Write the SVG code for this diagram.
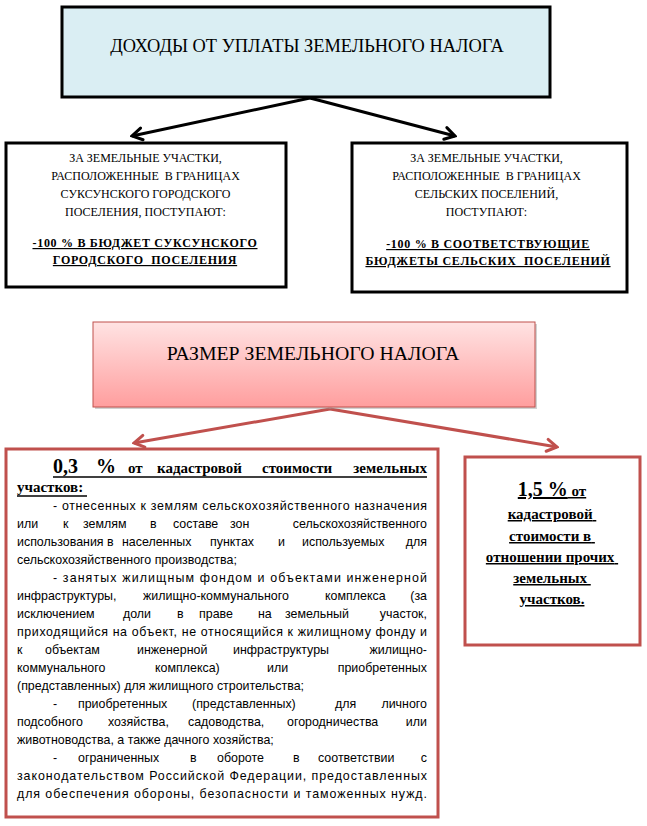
<svg xmlns="http://www.w3.org/2000/svg" width="647" height="826" viewBox="0 0 647 826">
<defs>
<linearGradient id="pinkGrad" x1="0" y1="0" x2="0" y2="1">
<stop offset="0" stop-color="#ffe3e3"/>
<stop offset="1" stop-color="#ff9e9e"/>
</linearGradient>
<marker id="ahBlack" viewBox="-12 -8 14 16" refX="0" refY="0" markerWidth="14" markerHeight="16" markerUnits="userSpaceOnUse" orient="auto">
<path d="M-10,-6 L0,0 L-10,6" fill="none" stroke="#000" stroke-width="3" stroke-linecap="round" stroke-linejoin="miter"/>
</marker>
<marker id="ahRed" viewBox="-12 -8 14 16" refX="0" refY="0" markerWidth="14" markerHeight="16" markerUnits="userSpaceOnUse" orient="auto">
<path d="M-10,-6 L0,0 L-10,6" fill="none" stroke="#c0504d" stroke-width="3" stroke-linecap="round" stroke-linejoin="miter"/>
</marker>
</defs>
<style>
.serif{font-family:"Liberation Serif","Times New Roman",serif;fill:#000}
.cap{font-size:12px;white-space:pre}
.capb{font-size:12px;font-weight:bold;text-decoration:underline;white-space:pre;letter-spacing:0.7px}
.title{font-size:18.4px}
.title2{font-size:19.8px}
.sans{font-family:"Liberation Sans",Arial,sans-serif;font-size:13.5px;fill:#000}
.bold15{font-size:15px;font-weight:bold}
.big{font-size:20px;font-weight:bold}
.blk{fill:#fff;stroke:#000;stroke-width:3}
.redbox{fill:#fff;stroke:#c0504d;stroke-width:3}
.con-b{fill:none;stroke:#000;stroke-width:3}
.con-r{fill:none;stroke:#c0504d;stroke-width:3}
</style>
<rect width="647" height="826" fill="#fff"/>

<g id="connectors">
<line class="con-b" x1="310" y1="98" x2="132" y2="136" marker-end="url(#ahBlack)"/>
<line class="con-b" x1="310" y1="98" x2="455" y2="136" marker-end="url(#ahBlack)"/>
<line class="con-r" x1="330" y1="409" x2="134" y2="443" marker-end="url(#ahRed)"/>
<line class="con-r" x1="330" y1="409" x2="557" y2="447" marker-end="url(#ahRed)"/>
</g>

<g id="node-income">
<rect x="62" y="7" width="488" height="90" fill="#daeef3" stroke="#000" stroke-width="3"/>
<text class="serif title" x="307" y="52" text-anchor="middle">ДОХОДЫ ОТ УПЛАТЫ ЗЕМЕЛЬНОГО НАЛОГА</text>
</g>

<g id="node-urban">
<rect class="blk" x="6" y="143" width="280" height="144"/>
<text class="serif cap" text-anchor="middle">
<tspan x="147" y="162">ЗА ЗЕМЕЛЬНЫЕ УЧАСТКИ,</tspan>
<tspan x="147" y="180">РАСПОЛОЖЕННЫЕ  В ГРАНИЦАХ</tspan>
<tspan x="147" y="198">СУКСУНСКОГО ГОРОДСКОГО</tspan>
<tspan x="147" y="216">ПОСЕЛЕНИЯ, ПОСТУПАЮТ:</tspan>
</text>
<text class="serif capb" x="145" y="247" text-anchor="middle">-100 % В БЮДЖЕТ СУКСУНСКОГО</text>
<text class="serif capb" x="145" y="264" text-anchor="middle">ГОРОДСКОГО  ПОСЕЛЕНИЯ</text>
</g>

<g id="node-rural">
<rect class="blk" x="352" y="143" width="275" height="149"/>
<text class="serif cap" text-anchor="middle">
<tspan x="488" y="162">ЗА ЗЕМЕЛЬНЫЕ УЧАСТКИ,</tspan>
<tspan x="488" y="180">РАСПОЛОЖЕННЫЕ  В ГРАНИЦАХ</tspan>
<tspan x="488" y="198">СЕЛЬСКИХ ПОСЕЛЕНИЙ,</tspan>
<tspan x="488" y="216">ПОСТУПАЮТ:</tspan>
</text>
<text class="serif capb" x="488" y="248" text-anchor="middle">-100 % В СООТВЕТСТВУЮЩИЕ</text>
<text class="serif capb" x="488" y="265" text-anchor="middle">БЮДЖЕТЫ СЕЛЬСКИХ  ПОСЕЛЕНИЙ</text>
</g>

<g id="node-size">
<rect x="95" y="324" width="442" height="85" fill="#9a9a9a" opacity="0.45"/>
<rect x="93" y="322" width="442" height="85" fill="url(#pinkGrad)" stroke="#c0504d" stroke-width="1"/>
<text class="serif title2" x="313" y="360" text-anchor="middle">РАЗМЕР ЗЕМЕЛЬНОГО НАЛОГА</text>
</g>

<g id="node-rate-03">
<rect class="redbox" x="6" y="449" width="432" height="368"/>
<text class="serif">
<tspan class="big" x="53" y="473">0,3</tspan>
<tspan class="big" x="96" y="473">%</tspan>
<tspan class="bold15" x="128" y="473">от</tspan>
<tspan class="bold15" x="157" y="473">кадастровой</tspan>
<tspan class="bold15" x="262" y="473">стоимости</tspan>
<tspan class="bold15" x="427" y="473" text-anchor="end">земельных</tspan>
</text>
<line x1="53" y1="477" x2="427" y2="477" stroke="#000" stroke-width="1.5"/>
<text class="serif bold15" x="17" y="492">участков:</text>
<line x1="17" y1="496" x2="87" y2="496" stroke="#000" stroke-width="1.5"/>

<g transform="scale(0.92 1)">
<text class="sans" x="57.61" y="510" textLength="406.52" lengthAdjust="spacing">- отнесенных к землям сельскохозяйственного назначения</text>
<text class="sans" y="528"><tspan x="18.48">или</tspan><tspan x="68.48">к</tspan><tspan x="90.22">землям</tspan><tspan x="163.04">в</tspan><tspan x="188.04">составе</tspan><tspan x="250">зон</tspan><tspan x="464.13" text-anchor="end">сельскохозяйственного</tspan></text>
<text class="sans" y="546"><tspan x="18.48">использования</tspan><tspan x="116.3">в</tspan><tspan x="132.61">населенных</tspan><tspan x="228.26">пунктах</tspan><tspan x="302.17">и</tspan><tspan x="328.26">используемых</tspan><tspan x="464.13" text-anchor="end">для</tspan></text>
<text class="sans" x="18.48" y="564">сельскохозяйственного производства;</text>

<text class="sans" x="57.61" y="582" textLength="406.52" lengthAdjust="spacing">- занятых жилищным фондом и объектами инженерной</text>
<text class="sans" y="600"><tspan x="18.48">инфраструктуры,</tspan><tspan x="155.43">жилищно-коммунального</tspan><tspan x="353.26">комплекса</tspan><tspan x="464.13" text-anchor="end">(за</tspan></text>
<text class="sans" y="618"><tspan x="18.48">исключением</tspan><tspan x="133.7">доли</tspan><tspan x="192.39">в</tspan><tspan x="216.3">праве</tspan><tspan x="280.43">на</tspan><tspan x="309.78">земельный</tspan><tspan x="464.13" text-anchor="end">участок,</tspan></text>
<text class="sans" x="18.48" y="636" textLength="445.65" lengthAdjust="spacing">приходящийся на объект, не относящийся к жилищному фонду и</text>
<text class="sans" y="654"><tspan x="18.48">к</tspan><tspan x="48.91">объектам</tspan><tspan x="148.91">инженерной</tspan><tspan x="253.26">инфраструктуры</tspan><tspan x="464.13" text-anchor="end">жилищно-</tspan></text>
<text class="sans" y="672"><tspan x="18.48">коммунального</tspan><tspan x="168.48">комплекса)</tspan><tspan x="290.22">или</tspan><tspan x="464.13" text-anchor="end">приобретенных</tspan></text>
<text class="sans" x="18.48" y="690">(представленных) для жилищного строительства;</text>

<text class="sans" y="708"><tspan x="57.61">-</tspan><tspan x="84.78">приобретенных</tspan><tspan x="208.7">(представленных)</tspan><tspan x="364.13">для</tspan><tspan x="464.13" text-anchor="end">личного</tspan></text>
<text class="sans" y="726"><tspan x="18.48">подсобного</tspan><tspan x="117.39">хозяйства,</tspan><tspan x="204.35">садоводства,</tspan><tspan x="311.96">огородничества</tspan><tspan x="464.13" text-anchor="end">или</tspan></text>
<text class="sans" x="18.48" y="744">животноводства, а также дачного хозяйства;</text>
<text class="sans" y="762"><tspan x="57.61">-</tspan><tspan x="84.78">ограниченных</tspan><tspan x="206.52">в</tspan><tspan x="235.87">обороте</tspan><tspan x="318.48">в</tspan><tspan x="345.65">соответствии</tspan><tspan x="464.13" text-anchor="end">с</tspan></text>
<text class="sans" x="18.48" y="780" textLength="445.65" lengthAdjust="spacing">законодательством Российской Федерации, предоставленных</text>
<text class="sans" x="18.48" y="798" textLength="445.65" lengthAdjust="spacing">для обеспечения обороны, безопасности и таможенных нужд.</text>
</g>
</g>

<g id="node-rate-15">
<rect class="redbox" x="465" y="457" width="175" height="188"/>
<text class="serif" x="552" y="496" text-anchor="middle" text-decoration="underline"><tspan class="big">1,5 %</tspan><tspan class="bold15"> от</tspan></text>
<text class="serif bold15" text-anchor="middle" text-decoration="underline">
<tspan x="552" y="519">кадастровой</tspan>
<tspan x="552" y="541">стоимости в</tspan>
<tspan x="552" y="562">отношении прочих</tspan>
<tspan x="552" y="583">земельных</tspan>
<tspan x="552" y="604">участков.</tspan>
</text>
</g>
</svg>
